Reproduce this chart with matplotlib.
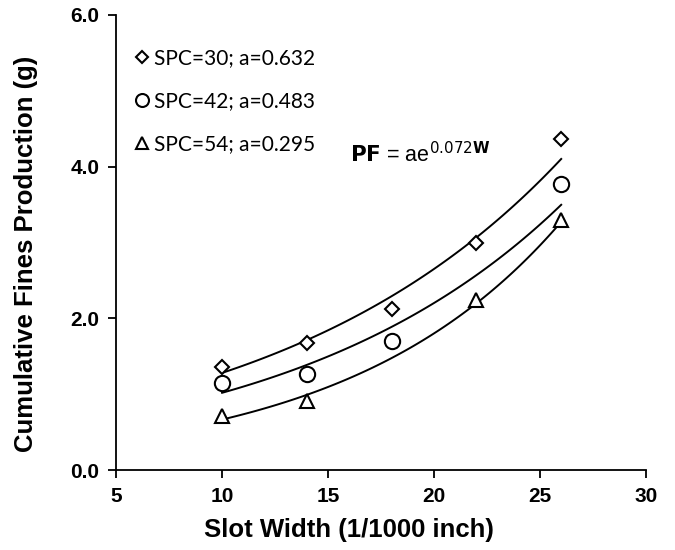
import numpy as np
import matplotlib
matplotlib.use('Agg')
import matplotlib.pyplot as plt

# data
x_spc30 = [10, 14, 18, 22, 26]
y_spc30 = [1.36, 1.68, 2.13, 2.99, 4.36]
x_spc42 = [10, 14, 18, 26]
y_spc42 = [1.15, 1.27, 1.70, 3.77]
x_spc54 = [10, 14, 22, 26]
y_spc54 = [0.71, 0.91, 2.24, 3.30]

labels = ['SPC=30; a=0.632', 'SPC=42; a=0.483', 'SPC=54; a=0.295']
markers = ['D', 'o', '^']
sizes = [7.5, 11, 10.5]

plt.rcParams['font.family'] = ['Liberation Sans', 'DejaVu Sans']

fig = plt.figure(figsize=(6.75, 5.5), dpi=100)
ax = fig.add_axes([0.172, 0.145, 0.785, 0.828])

series = [(x_spc30, y_spc30), (x_spc42, y_spc42), (x_spc54, y_spc54)]
handles = []
for (xs, ys), m, ms, lab in zip(series, markers, sizes, labels):
    # exponential trendline fitted to the points, like Excel
    b, lna = np.polyfit(xs, np.log(ys), 1)
    xf = np.linspace(min(xs), max(xs), 100)
    ax.plot(xf, np.exp(lna) * np.exp(b * xf), color='black', lw=1.4)
    h, = ax.plot(xs, ys, linestyle='none', marker=m, ms=ms, mfc='white',
                 mec='black', mew=1.5, label=lab)
    handles.append(h)

leg = ax.legend(handles=handles, loc='upper left', frameon=False,
                bbox_to_anchor=(-0.01, 0.972), handletextpad=0.05,
                handlelength=1.0, labelspacing=1.1, borderaxespad=0.6,
                prop={'family': 'Lato', 'size': 15}, markerscale=0.85)

ax.text(0.442, 0.677, r'$\mathbf{PF}$ = ae$^{0.072\mathbf{W}}$',
        transform=ax.transAxes, fontsize=15.5, va='baseline')

ax.set_xlim(5, 30)
ax.set_ylim(0, 6)
ax.set_xticks([5, 10, 15, 20, 25, 30])
ax.set_yticks([0, 2, 4, 6])
ax.set_yticklabels(['0.0', '2.0', '4.0', '6.0'])
for lbl in ax.get_xticklabels() + ax.get_yticklabels():
    lbl.set_fontweight('bold')
    lbl.set_fontsize(15)
ax.tick_params(direction='out', length=6, width=1.3, color='black', pad=6)
ax.spines['top'].set_visible(False)
ax.spines['right'].set_visible(False)
ax.spines['left'].set_linewidth(1.3)
ax.spines['bottom'].set_linewidth(1.3)

ax.set_xlabel('Slot Width (1/1000 inch)', fontsize=18.5, fontweight='bold')
ax.set_ylabel('Cumulative Fines Production (g)', fontsize=18.5,
              fontweight='bold')
ax.xaxis.set_label_coords(0.44, -0.105)
ax.yaxis.set_label_coords(-0.148, 0.475)

plt.savefig('out.png', dpi=100)
